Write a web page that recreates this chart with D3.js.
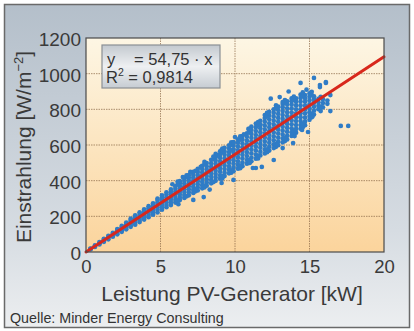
<!DOCTYPE html>
<html><head><meta charset="utf-8">
<script src="https://cdn.jsdelivr.net/npm/d3@7"></script>
<style>html,body{margin:0;padding:0;background:#fff}svg{display:block}</style>
</head><body>
<script>
// ---- data ----
const xTicks = [0, 5, 10, 15, 20];
const yTicks = [0, 200, 400, 600, 800, 1000, 1200];
const slope = 54.75;
const r2 = "0,9814";
// dense band, column by column: power [kW] and irradiance values [W/m²]
const colX = [0.3,0.6,0.9,1.2,1.5,1.8,2.1,2.4,2.7,3.0,3.3,3.6,3.9,4.2,4.5,4.8,5.1,5.4,5.7,6.0,6.3,6.6,6.9,7.2,7.5,7.8,8.1,8.4,8.7,9.0,9.3,9.6,9.9,10.2,10.5,10.8,11.1,11.4,11.7,12.0,12.3,12.6,12.9,13.2,13.5,13.8,14.1,14.4,14.7,15.0,15.3,15.6,15.9,16.2];
const colY = [
 [14,17,19],[28,33,37],[42,48,55],[57,63,70,74],[71,78,85,91],[86,93,101,107],
 [99,107,115,122,129],[113,122,131,139,146],[127,137,146,156,165],[141,151,161,170,180,187],
 [153,165,176,186,196,206],[168,180,191,202,213,223],[182,194,206,217,228,239],[195,208,221,233,246,257],
 [209,222,236,249,262,273],[222,237,251,264,278,291,299],[237,250,264,278,292,305,317],[251,264,279,293,307,322,335],
 [263,278,294,309,323,338,351],[277,292,308,324,339,355,368],[291,306,322,338,353,369,385,397],[303,319,336,352,368,384,399,414],
 [318,335,352,368,384,400,417,431],[331,348,366,383,400,417,433,449],[345,362,380,397,414,431,449,466],[357,375,394,412,430,447,465,483],
 [372,390,408,426,444,462,480,499],[385,404,423,441,460,478,497,517],[399,418,437,456,475,494,513,532,550],[411,430,450,470,490,509,528,548,565],
 [426,445,465,485,505,525,545,564,584],[441,460,480,500,520,540,560,580,598],[453,474,495,515,536,556,576,596,616],[467,488,509,530,550,570,591,612,632],
 [481,502,524,545,566,587,608,630,650],[495,516,538,560,582,603,624,646,666],[509,530,553,575,597,619,640,662,684,703],[523,545,568,590,612,634,656,678,700,720],
 [541,562,584,606,628,650,672,694,716,736],[553,575,598,620,642,664,686,708,730,751,768],[569,590,612,634,656,678,700,722,744,766,786],[583,604,626,648,670,692,714,736,758,780,800],
 [599,620,642,664,686,708,730,752,774,796,815],[615,636,658,680,702,724,746,768,790,812,830],[631,652,674,696,718,740,762,784,806,828,845],[651,672,694,716,738,760,782,804,826,846,861],
 [669,690,712,734,756,778,800,822,842,861],[691,712,734,756,778,800,822,844,864,882],[711,732,754,776,798,820,842,862,880],[741,762,784,806,828,850,870,889],
 [771,792,814,836,856,873],[801,820,840,859],[811,835,857],[831,849]
];
// staggered columns along the band edges
const edgeX = [6.15,6.75,7.35,7.95,8.55,9.15,9.75,10.35,10.95,11.55,12.15,12.75,13.35,13.95,14.55,15.15,15.75];
const edgeY = [
 [290,380,395],[312,420,430],[340,352,455],[362,372,492,505],[392,520,535],[412,425,560,580],
 [445,458,600,615],[470,485,630,648],[500,515,670,690],[525,540,710,728],[560,575,760,780],
 [590,605,805,822],[622,640,835,852],[660,680,855,872],[700,720,875,895],[755,775,880,898],[790,815,870]
];
// scattered outliers [kW, W/m²]
const outliers = [[15.3,976],[14.4,948],[15.7,936],[16.1,948],[16.1,953],[15.7,925],[16.4,880],[16.4,790],[17.1,707],[17.6,707],
 [11.4,471],[11.8,477],[12.6,516],[13.2,583],[13.9,611],[14.9,673],[14.5,684],[11.2,471],[9.9,404],
 [11.7,712],[13.0,869],[13.2,841],[12.2,780],[8.8,544],[9.1,572],[9.7,572],[10.0,645],[9.9,611],
 [9.1,387],[7.9,308],[7.2,292],[6.5,420],[7.0,449],[7.7,477],[10.6,660],[10.9,690],[12.8,600],[14.0,650],
 [5.8,380],[6.2,268],[8.3,350],[11.0,500],[12.4,860],[13.6,900],[14.8,910],[15.2,760]];

const W = 414, H = 331;
const svg = d3.select("body").append("svg").attr("width", W).attr("height", H);
const defs = svg.append("defs");
const g1 = defs.append("linearGradient").attr("id","bg").attr("x1",0).attr("y1",0).attr("x2",0).attr("y2",1);
g1.append("stop").attr("offset","0%").attr("stop-color","#b4bfca");
g1.append("stop").attr("offset","70%").attr("stop-color","#d6dce2");
g1.append("stop").attr("offset","100%").attr("stop-color","#eceef0");
const g2 = defs.append("linearGradient").attr("id","plotbg").attr("x1",0).attr("y1",0).attr("x2",0).attr("y2",1);
g2.append("stop").attr("offset","0%").attr("stop-color","#fdf6e4");
g2.append("stop").attr("offset","100%").attr("stop-color","#fbd49c");
const g3 = defs.append("linearGradient").attr("id","legbg").attr("x1",0).attr("y1",0).attr("x2",0).attr("y2",1);
g3.append("stop").attr("offset","0%").attr("stop-color","#c3c9cf");
g3.append("stop").attr("offset","50%").attr("stop-color","#eef0f2");
g3.append("stop").attr("offset","100%").attr("stop-color","#c6ccd2");

svg.append("rect").attr("x",4.5).attr("y",4.5).attr("width",405).attr("height",323)
  .attr("fill","url(#bg)").attr("stroke","#6a6a6a").attr("stroke-width",1.5);

const x = d3.scaleLinear().domain([0,20]).range([86,384]);
const y = d3.scaleLinear().domain([0,1200]).range([252,38]);

svg.append("rect").attr("x",x(0)).attr("y",y(1200)).attr("width",x(20)-x(0)).attr("height",y(0)-y(1200))
  .attr("fill","url(#plotbg)");

// grid
const grid = svg.append("g").attr("stroke","#8c6a48").attr("stroke-width",0.9).attr("stroke-dasharray","1.5,1").attr("opacity",0.8);
grid.selectAll(".gy").data(yTicks.slice(1,-1)).join("line")
  .attr("x1",x(0)).attr("x2",x(20)).attr("y1",d=>y(d)).attr("y2",d=>y(d));
grid.selectAll(".gx").data(xTicks.slice(1,-1)).join("line")
  .attr("y1",y(0)).attr("y2",y(1200)).attr("x1",d=>x(d)).attr("x2",d=>x(d));

// points
const pts = [];
colX.forEach((cx,i)=>colY[i].forEach(v=>pts.push([cx,v])));
edgeX.forEach((cx,i)=>edgeY[i].forEach(v=>pts.push([cx,v])));
outliers.forEach(p=>pts.push(p));
svg.append("g").selectAll("circle").data(pts).join("circle")
  .attr("cx",d=>x(d[0])).attr("cy",d=>y(d[1])).attr("r",2.35).attr("fill","#2f7cc6");

// regression line
svg.append("line").attr("x1",x(0)).attr("y1",y(0)).attr("x2",x(20)).attr("y2",y(slope*20))
  .attr("stroke","#d8281c").attr("stroke-width",3).attr("stroke-linecap","round");

// frame
svg.append("rect").attr("x",x(0)).attr("y",y(1200)).attr("width",x(20)-x(0)).attr("height",y(0)-y(1200))
  .attr("fill","none").attr("stroke","#4a4a4a").attr("stroke-width",1.2);

// axes
const font = "'Liberation Sans', Arial, sans-serif";
const yAxis = svg.append("g").attr("transform",`translate(${x(0)},0)`)
  .call(d3.axisLeft(y).tickValues(yTicks).tickSize(0).tickPadding(5).tickFormat(d3.format("d")));
yAxis.select(".domain").remove();
yAxis.selectAll("text").attr("font-family",font).attr("font-size",19).attr("fill","#3a3a3a").attr("dy","0.4em");
const xAxis = svg.append("g").attr("transform",`translate(0,${y(0)})`)
  .call(d3.axisBottom(x).tickValues(xTicks).tickSize(0).tickPadding(8).tickFormat(d3.format("d")));
xAxis.select(".domain").remove();
xAxis.selectAll("text").attr("font-family",font).attr("font-size",18.5).attr("fill","#3a3a3a");

svg.append("text").attr("x",232).attr("y",301).attr("text-anchor","middle")
  .attr("font-family",font).attr("font-size",21).attr("fill","#3a3a3a").text("Leistung PV-Generator [kW]");
const yt = svg.append("text").attr("transform","translate(31,147) rotate(-90)").attr("text-anchor","middle")
  .attr("font-family",font).attr("font-size",21).attr("fill","#3a3a3a");
yt.append("tspan").text("Einstrahlung [W/m");
yt.append("tspan").attr("font-size",13).attr("dy",-8).text("−2");
yt.append("tspan").attr("dy",8).text("]");

svg.append("text").attr("x",10).attr("y",323).attr("font-family",font).attr("font-size",14.3)
  .attr("fill","#333").text("Quelle: Minder Energy Consulting");

// legend box
svg.append("rect").attr("x",102).attr("y",45).attr("width",118).attr("height",43)
  .attr("fill","url(#legbg)").attr("stroke","#8a8f94").attr("stroke-width",1.2);
const lf = svg.append("g").attr("font-family",font).attr("font-size",16.5).attr("fill","#333");
lf.append("text").attr("x",107).attr("y",64.5).text("y");
lf.append("text").attr("x",134).attr("y",64.5).text("= 54,75 · x");
const l2 = lf.append("text").attr("x",106).attr("y",83);
l2.append("tspan").text("R");
l2.append("tspan").attr("font-size",10.5).attr("dy",-7).text("2");
l2.append("tspan").attr("dy",7).text(" = " + r2);
</script>
</body></html>
